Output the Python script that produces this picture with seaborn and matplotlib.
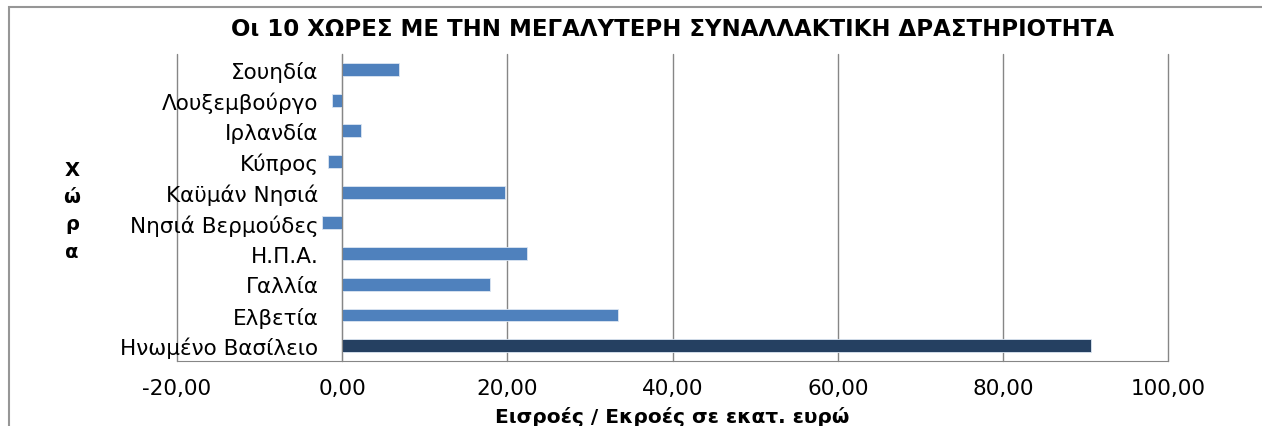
import seaborn as sns
import pandas as pd
import matplotlib.pyplot as plt
from matplotlib.ticker import FuncFormatter, FixedLocator
from matplotlib.patches import Rectangle

# data, top to bottom as in the chart
countries = ['Σουηδία', 'Λουξεμβούργο', 'Ιρλανδία', 'Κύπρος', 'Καϋμάν Νησιά',
             'Νησιά Βερμούδες', 'Η.Π.Α.', 'Γαλλία', 'Ελβετία', 'Ηνωμένο Βασίλειο']
values = [6.9, -1.2, 2.3, -1.7, 19.7, -2.5, 22.4, 17.9, 33.4, 90.7]

df = pd.DataFrame({'country': countries, 'value': values})
pal = {c: '#4F81BD' for c in countries}
pal['Ηνωμένο Βασίλειο'] = '#254061'

sns.set_style("white")
plt.rcParams['font.family'] = ['DejaVu Sans']
plt.rcParams['text.color'] = 'black'
plt.rcParams['axes.labelcolor'] = 'black'
plt.rcParams['xtick.labelcolor'] = 'black'
plt.rcParams['ytick.labelcolor'] = 'black'

fig = plt.figure(figsize=(12.62, 4.27), dpi=100)
ax = fig.add_axes([0.1403, 0.152, 0.7853, 0.719])

sns.barplot(data=df, x='value', y='country', hue='country', palette=pal,
            orient='h', width=0.42, legend=False, saturation=1,
            edgecolor='#dce6f2', linewidth=0.6, ax=ax, zorder=3)

ax.set_xlim(-20, 100)
ax.set_ylim(len(countries) - 0.5, -0.5)
ax.xaxis.set_major_locator(FixedLocator([-20, 0, 20, 40, 60, 80, 100]))
ax.xaxis.set_major_formatter(FuncFormatter(lambda v, p: f'{v:.2f}'.replace('.', ',')))
ax.grid(axis='x', color='#868686', linewidth=1, zorder=0)
ax.grid(axis='y', visible=False)
for gl in ax.get_xgridlines():
    gl.set_clip_on(False)

for s in ['top', 'right']:
    ax.spines[s].set_visible(False)
ax.spines['left'].set_position(('data', 0))
ax.spines['left'].set_color('#868686')
ax.spines['bottom'].set_color('#868686')
ax.spines['left'].set_zorder(4)

# category boundary ticks on the y axis
ax.set_yticks([i + 0.5 for i in range(-1, len(countries))], minor=True)
ax.tick_params(axis='y', which='minor', length=5, color='#868686', direction='out')
ax.tick_params(axis='y', which='major', length=0, pad=17, labelsize=15.5)
ax.tick_params(axis='x', which='major', length=5, color='#868686', direction='out',
               labelsize=15.5, pad=7)

ax.set_ylabel('')
ax.set_xlabel('Εισροές / Εκροές σε εκατ. ευρώ', fontsize=14.5, fontweight='bold', labelpad=6)
ax.set_title('Οι 10 ΧΩΡΕΣ ΜΕ ΤΗΝ ΜΕΓΑΛΥΤΕΡΗ ΣΥΝΑΛΛΑΚΤΙΚΗ ΔΡΑΣΤΗΡΙΟΤΗΤΑ',
             fontsize=16.5, fontweight='bold', pad=14)

fig.text(0.057, 0.505, 'Χ\nώ\nρ\nα', fontsize=14, fontweight='bold',
         ha='center', va='center', linespacing=1.55)

fig.patches.append(Rectangle((9 / 1262, -0.1), 1.1, 1.1 - 8 / 427,
                             transform=fig.transFigure, fill=False,
                             edgecolor='#969696', linewidth=1.5))

plt.savefig('out.png', dpi=100)
